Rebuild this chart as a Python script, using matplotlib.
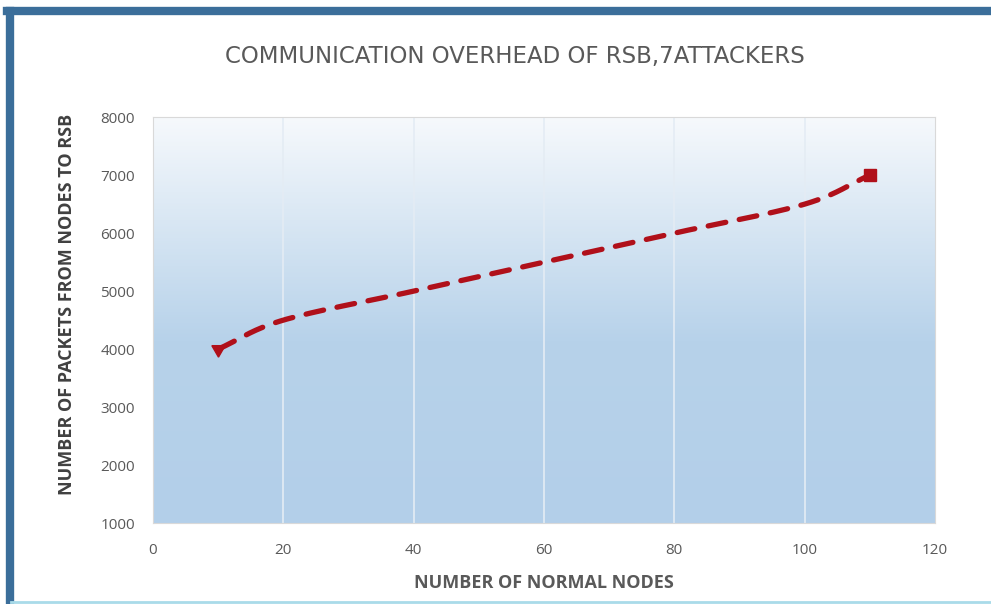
import numpy as np
import matplotlib

matplotlib.use("Agg")
import matplotlib.pyplot as plt
from matplotlib.lines import Line2D
from matplotlib.colors import LinearSegmentedColormap

# Packets sent to the RSB vs. number of normal nodes (7 attackers)
normal_nodes = [10, 20, 40, 60, 80, 100, 110]
packets = [4000, 4500, 5000, 5500, 6000, 6500, 7000]

x_ticks = [0, 20, 40, 60, 80, 100, 120]
y_ticks = [1000, 2000, 3000, 4000, 5000, 6000, 7000, 8000]

title = "COMMUNICATION OVERHEAD OF RSB,7ATTACKERS"
x_label = "NUMBER OF NORMAL NODES"
y_label = "NUMBER OF PACKETS FROM NODES TO RSB"

plt.rcParams["font.family"] = ["Open Sans", "DejaVu Sans"]


def smooth(xs, ys, steps=30):
    """Catmull-Rom interpolation through the points, like a smoothed line chart."""
    xs = np.asarray(xs, float)
    ys = np.asarray(ys, float)
    px = np.concatenate([[2 * xs[0] - xs[1]], xs, [2 * xs[-1] - xs[-2]]])
    py = np.concatenate([[2 * ys[0] - ys[1]], ys, [2 * ys[-1] - ys[-2]]])
    out_x, out_y = [], []
    t = np.linspace(0, 1, steps)
    for i in range(1, len(px) - 2):
        for arr, out in ((px, out_x), (py, out_y)):
            p0, p1, p2, p3 = arr[i - 1], arr[i], arr[i + 1], arr[i + 2]
            seg = 0.5 * ((2 * p1) + (-p0 + p2) * t
                         + (2 * p0 - 5 * p1 + 4 * p2 - p3) * t ** 2
                         + (-p0 + 3 * p1 - 3 * p2 + p3) * t ** 3)
            out.extend(seg if not out else seg[1:])
    return np.array(out_x), np.array(out_y)


fig = plt.figure(figsize=(9.91, 6.04), dpi=100)
fig.patch.set_facecolor("white")
ax = fig.add_axes([0.1544, 0.134, 0.789, 0.672])

# vertical gradient background for the plot area
grad = LinearSegmentedColormap.from_list(
    "bg", [(0.0, "#b3cfe9"), (0.45, "#b7d2ea"), (1.0, "#f6f9fc")])
ax.imshow(np.linspace(0, 1, 256).reshape(-1, 1), aspect="auto", cmap=grad,
          extent=[0, 120, 1000, 8000], origin="lower", zorder=0)

ax.set_xlim(0, 120)
ax.set_ylim(1000, 8000)
ax.set_xticks(x_ticks)
ax.set_yticks(y_ticks)
ax.tick_params(axis="x", length=0, labelsize=11, labelcolor="#595959", pad=14)
ax.tick_params(axis="y", length=0, labelsize=11, labelcolor="#595959", pad=13)
for sp in ax.spines.values():
    sp.set_color("#d9d9d9")
    sp.set_linewidth(0.8)

for xv in x_ticks[1:-1]:
    ax.axvline(xv, color="#e4ecf4", linewidth=1.2, zorder=1)

sx, sy = smooth(normal_nodes, packets)
ax.plot(sx, sy, color="#b0101a", linewidth=3.8, linestyle=(0, (3.4, 2.6)),
        dash_capstyle="round", zorder=3)
ax.plot(normal_nodes[:1], packets[:1], linestyle="none", marker=(3, 0, 60),
        markersize=11, color="#b0101a", zorder=4)
ax.plot(normal_nodes[-1:], packets[-1:], linestyle="none", marker="s",
        markersize=8, color="#b0101a", zorder=4)

fig.text(0.52, 0.906, title, ha="center", va="center", fontsize=16.5,
         color="#595959", fontfamily=["DejaVu Sans"])
ax.set_xlabel(x_label, fontsize=13, color="#595959", fontweight="bold",
              labelpad=12)
ax.set_ylabel(y_label, fontsize=13, color="#404040", fontweight="bold")
ax.yaxis.set_label_coords(-0.098, 0.54)

# outer frame: heavy blue on left and top, thin light edge at the bottom
fig.add_artist(Line2D([0.0105, 0.0105], [0.0, 0.981], color="#3b6e9a", linewidth=6))
fig.add_artist(Line2D([0.0075, 1.0], [0.981, 0.981], color="#3b6e9a", linewidth=6))
fig.add_artist(Line2D([0.0115, 1.0], [0.004, 0.004], color="#a9dbe9", linewidth=2))

fig.savefig("out.png", dpi=100, facecolor="white")
